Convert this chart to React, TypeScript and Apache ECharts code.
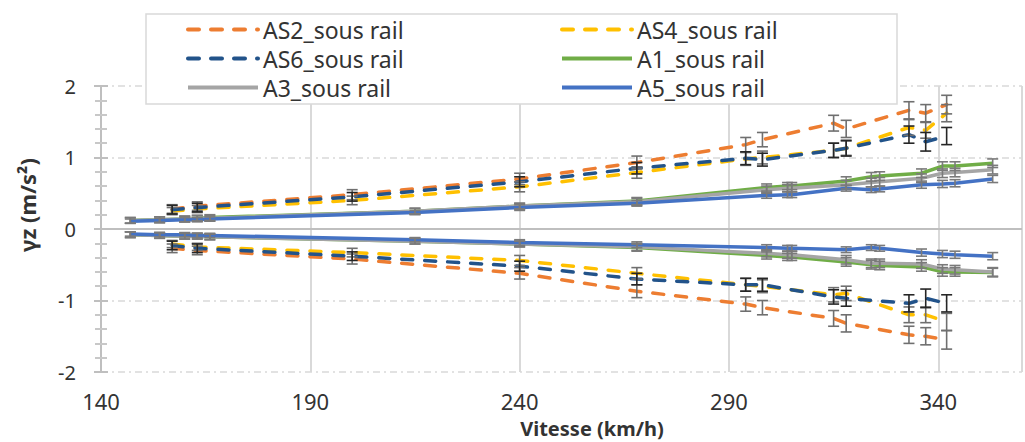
import React, { useEffect, useRef } from "react";
import * as echarts from "echarts";

// ---------- data ----------
const speedsDashed = [157, 163, 200, 240, 268, 294, 298, 315, 318, 333, 337, 342];
const speedsSolid = [147, 154, 160, 163, 166, 215, 240, 268, 299, 304, 305, 318, 324, 326, 336, 341, 344, 353];

const as2Up = [0.28, 0.32, 0.48, 0.7, 0.93, 1.18, 1.25, 1.48, 1.4, 1.66, 1.62, 1.74];
const as2Low = [-0.27, -0.3, -0.42, -0.62, -0.87, -1.05, -1.1, -1.25, -1.32, -1.48, -1.5, -1.55];
const as2Err = [0.06, 0.06, 0.07, 0.08, 0.09, 0.1, 0.1, 0.11, 0.12, 0.12, 0.12, 0.13];

const as4Up = [0.25, 0.28, 0.4, 0.59, 0.79, 0.98, 1.0, 1.1, 1.13, 1.42, 1.38, 1.62];
const as4Low = [-0.21, -0.25, -0.33, -0.44, -0.62, -0.78, -0.8, -0.92, -0.9, -1.2, -1.2, -1.3];
const as4Err = [0.05, 0.05, 0.06, 0.07, 0.08, 0.09, 0.09, 0.1, 0.1, 0.11, 0.11, 0.12];

const as6Up = [0.27, 0.3, 0.45, 0.66, 0.85, 0.99, 0.97, 1.1, 1.13, 1.32, 1.22, 1.3];
const as6Low = [-0.23, -0.27, -0.38, -0.52, -0.7, -0.78, -0.78, -0.95, -0.97, -1.04, -0.97, -1.04];
const as6Err = [0.06, 0.06, 0.06, 0.07, 0.08, 0.09, 0.09, 0.1, 0.11, 0.12, 0.13, 0.12];

const a1Up = [0.12, 0.13, 0.14, 0.15, 0.16, 0.25, 0.32, 0.39, 0.58, 0.6, 0.6, 0.67, 0.73, 0.74, 0.78, 0.88, 0.88, 0.92];
const a1Low = [-0.08, -0.09, -0.1, -0.1, -0.11, -0.17, -0.21, -0.26, -0.37, -0.39, -0.39, -0.46, -0.5, -0.51, -0.53, -0.6, -0.6, -0.61];
const a1Err = [0.04, 0.04, 0.04, 0.04, 0.04, 0.04, 0.04, 0.05, 0.05, 0.05, 0.05, 0.06, 0.06, 0.06, 0.06, 0.06, 0.06, 0.06];

const a3Up = [0.12, 0.13, 0.14, 0.15, 0.15, 0.25, 0.32, 0.38, 0.55, 0.57, 0.57, 0.62, 0.65, 0.66, 0.71, 0.78, 0.79, 0.83];
const a3Low = [-0.08, -0.09, -0.1, -0.1, -0.11, -0.17, -0.21, -0.25, -0.34, -0.36, -0.36, -0.43, -0.48, -0.48, -0.49, -0.56, -0.57, -0.6];
const a3Err = [0.04, 0.04, 0.04, 0.04, 0.04, 0.04, 0.04, 0.05, 0.05, 0.05, 0.05, 0.06, 0.06, 0.06, 0.06, 0.06, 0.06, 0.06];

const a5Up = [0.11, 0.12, 0.13, 0.13, 0.14, 0.23, 0.3, 0.36, 0.47, 0.48, 0.48, 0.57, 0.55, 0.56, 0.62, 0.63, 0.64, 0.7];
const a5Low = [-0.07, -0.08, -0.08, -0.09, -0.09, -0.15, -0.19, -0.22, -0.26, -0.27, -0.27, -0.29, -0.26, -0.27, -0.33, -0.35, -0.36, -0.38];
const a5Err = [0.03, 0.03, 0.03, 0.03, 0.03, 0.03, 0.04, 0.04, 0.04, 0.04, 0.04, 0.04, 0.04, 0.04, 0.05, 0.05, 0.05, 0.05];

const xTicks = [140, 190, 240, 290, 340];
const yTicks = [-2, -1, 0, 1, 2];

const FONT = "'Noto Sans', 'Open Sans', sans-serif";

type Def = {
  name: string;
  color: string;
  dashed: boolean;
  xs: number[];
  up: number[];
  low: number[];
  err: number[];
  errColor: string;
};

const defs: Def[] = [
  { name: "AS2_sous rail", color: "#ED7D31", dashed: true, xs: speedsDashed, up: as2Up, low: as2Low, err: as2Err, errColor: "#6f6f6f" },
  { name: "AS4_sous rail", color: "#FFC000", dashed: true, xs: speedsDashed, up: as4Up, low: as4Low, err: as4Err, errColor: "#6f6f6f" },
  { name: "AS6_sous rail", color: "#22538A", dashed: true, xs: speedsDashed, up: as6Up, low: as6Low, err: as6Err, errColor: "#262626" },
  { name: "A1_sous rail", color: "#70AD47", dashed: false, xs: speedsSolid, up: a1Up, low: a1Low, err: a1Err, errColor: "#7a7a7a" },
  { name: "A3_sous rail", color: "#A5A5A5", dashed: false, xs: speedsSolid, up: a3Up, low: a3Low, err: a3Err, errColor: "#7a7a7a" },
  { name: "A5_sous rail", color: "#4472C4", dashed: false, xs: speedsSolid, up: a5Up, low: a5Low, err: a5Err, errColor: "#7a7a7a" },
];

function buildSeries(): any[] {
  const out: any[] = [];
  defs.forEach((d, idx) => {
    const lineStyle = {
      color: d.color,
      width: 3.5,
      type: d.dashed ? [11, 12] : "solid",
      cap: d.dashed ? "round" : "butt",
    };
    [d.up, d.low].forEach((vals, k) => {
      const s: any = {
        name: d.name,
        type: "line",
        symbol: "none",
        z: 2 + idx * 0.1,
        lineStyle,
        itemStyle: { color: d.color },
        data: d.xs.map((x, i) => [x, vals[i]]),
      };
      if (idx === 0 && k === 0) {
        s.markLine = {
          silent: true,
          symbol: "none",
          label: { show: false },
          lineStyle: { color: "#bfbfbf", width: 2, type: "solid" },
          data: [{ yAxis: 0 }],
          z: 1,
        };
      }
      out.push(s);
      const ebData: number[][] = d.xs.map((x, i) => [x, vals[i] - d.err[i], vals[i] + d.err[i]]);
      out.push({
        name: d.name + "_err" + k,
        type: "custom",
        z: 3,
        silent: true,
        encode: { x: 0, y: [1, 2] },
        data: ebData,
        renderItem: (params: any, api: any) => {
          const x = api.value(0);
          const lo = api.value(1);
          const hi = api.value(2);
          const p1 = api.coord([x, hi]);
          const p2 = api.coord([x, lo]);
          const w = 5.5;
          const st = { stroke: d.errColor, lineWidth: 1.6 };
          return {
            type: "group",
            children: [
              { type: "line", shape: { x1: p1[0], y1: p1[1], x2: p2[0], y2: p2[1] }, style: st },
              { type: "line", shape: { x1: p1[0] - w, y1: p1[1], x2: p1[0] + w, y2: p1[1] }, style: st },
              { type: "line", shape: { x1: p2[0] - w, y1: p2[1], x2: p2[0] + w, y2: p2[1] }, style: st },
            ],
          };
        },
      });
    });
  });
  return out;
}

const yAxisBase = {
  type: "value",
  min: yTicks[0],
  max: yTicks[yTicks.length - 1],
  interval: 1,
  position: "left",
};

export default function App() {
  const ref = useRef<HTMLDivElement>(null);
  useEffect(() => {
    document.body.style.margin = "0";
    if (!ref.current) return;
    const chart = echarts.init(ref.current, null, { renderer: "svg" });
    const legendCommon = {
      orient: "vertical",
      top: 15,
      padding: 0,
      itemGap: 0,
      itemWidth: 70,
      itemHeight: 14,
      selectedMode: false,
      itemStyle: { opacity: 0, borderWidth: 0 },
      lineStyle: { width: 4 },
      textStyle: { fontSize: 23, fontFamily: FONT, color: "#333", lineHeight: 29 },
    };
    chart.setOption({
      animation: false,
      backgroundColor: "#fff",
      grid: { left: 101, right: -15, top: 86, bottom: 70, containLabel: false },
      legend: [
        { ...legendCommon, left: 186, data: ["AS2_sous rail", "AS6_sous rail", "A3_sous rail"] },
        { ...legendCommon, left: 560, data: ["AS4_sous rail", "A1_sous rail", "A5_sous rail"] },
      ],
      xAxis: {
        type: "value",
        min: xTicks[0],
        max: 360,
        interval: 50,
        axisLine: { show: false },
        axisTick: { show: false },
        axisLabel: {
          fontSize: 22,
          fontFamily: FONT,
          color: "#333",
          margin: 18,
          formatter: (v: number) => (xTicks.includes(v) ? String(v) : ""),
        },
        splitLine: { show: true, lineStyle: { color: "#d9d9d9", width: 2, type: "solid" } },
      },
      yAxis: [
        {
          ...yAxisBase,
          axisLine: { show: true, lineStyle: { color: "#bfbfbf", width: 2 } },
          axisTick: { show: true, length: 7, lineStyle: { color: "#bfbfbf", width: 2 } },
          minorTick: { show: true, splitNumber: 5, length: 6, lineStyle: { color: "#c8c8c8", width: 2 } },
          axisLabel: { fontSize: 20, fontFamily: FONT, color: "#333", margin: 25 },
          splitLine: { show: true, lineStyle: { color: "#d9d9d9", width: 1.5, type: [7, 4, 2, 4] } },
        },
        {
          ...yAxisBase,
          axisLine: { show: false },
          axisTick: { show: true, inside: true, length: 7, lineStyle: { color: "#bfbfbf", width: 2 } },
          minorTick: { show: true, splitNumber: 5, length: 6, lineStyle: { color: "#c8c8c8", width: 2 } },
          axisLabel: { show: false },
          splitLine: { show: false },
        },
      ],
      graphic: [
        {
          type: "rect",
          z: 3,
          shape: { x: 146, y: 14, width: 751, height: 90 },
          style: { fill: "#fff", stroke: "#d9d9d9", lineWidth: 1.5 },
        },
        {
          type: "text",
          z: 5,
          x: 27,
          y: 205,
          rotation: Math.PI / 2,
          style: {
            text: "γz (m/s²)",
            fontSize: 22,
            fontWeight: "bold",
            fontFamily: FONT,
            fill: "#333",
            align: "center",
            verticalAlign: "middle",
          },
        },
        {
          type: "text",
          z: 5,
          x: 592,
          y: 428,
          style: {
            text: "Vitesse (km/h)",
            fontSize: 20,
            fontWeight: "bold",
            fontFamily: FONT,
            fill: "#333",
            align: "center",
            verticalAlign: "middle",
          },
        },
      ],
      series: buildSeries(),
    });
    return () => chart.dispose();
  }, []);
  return <div ref={ref} style={{ width: 1025, height: 442 }} />;
}
